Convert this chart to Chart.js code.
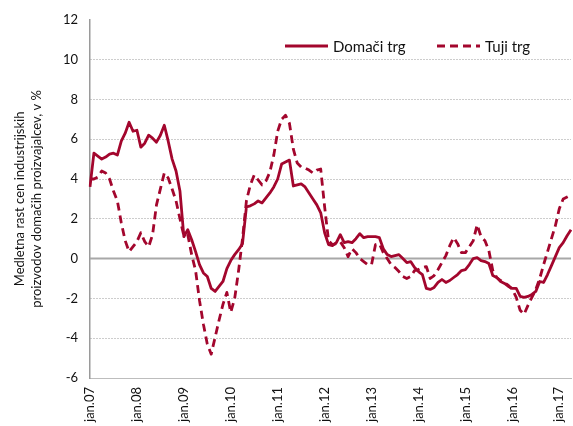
<!DOCTYPE html>
<html>
<head>
<meta charset="utf-8">
<script src="https://cdn.jsdelivr.net/npm/chart.js@4.4.1/dist/chart.umd.min.js"></script>
<style>
html,body{margin:0;padding:0;background:#fff;}
#wrap{width:573px;height:426px;}
</style>
</head>
<body>
<div id="wrap"><canvas id="c" width="573" height="426"></canvas></div>
<script>
// ---- data ----
const monthNames = ['jan','feb','mar','apr','maj','jun','jul','avg','sep','okt','nov','dec'];
const yearSuffixes = ['07','08','09','10','11','12','13','14','15','16','17'];
const lastYearMonths = 4; // jan..apr 2017

const seriesNames = ['Domači trg', 'Tuji trg'];

const domaci = [
  3.6, 5.3, 5.15, 5.0, 5.1, 5.25, 5.3, 5.2, 5.9, 6.3, 6.85, 6.4,
  6.45, 5.6, 5.8, 6.2, 6.05, 5.85, 6.2, 6.7, 5.9, 5.0, 4.4, 3.4,
  1.1, 1.45, 0.95, 0.35, -0.3, -0.72, -0.9, -1.5, -1.65, -1.4, -1.15, -0.5,
  -0.1, 0.2, 0.45, 0.75, 2.6, 2.65, 2.75, 2.9, 2.8, 3.05, 3.3, 3.6,
  4.0, 4.75, 4.85, 4.95, 3.65, 3.7, 3.75, 3.6, 3.3, 3.0, 2.7, 2.3,
  1.3, 0.7, 0.65, 0.8, 1.2, 0.8, 0.85, 0.8, 1.0, 1.25, 1.05, 1.1,
  1.1, 1.1, 1.05, 0.5, 0.2, 0.1, 0.15, 0.2, 0.0, -0.2, -0.15, -0.45,
  -0.65, -0.8, -1.5, -1.55, -1.45, -1.2, -1.05, -1.2, -1.1, -0.95, -0.8, -0.6,
  -0.55, -0.3, 0.0, 0.05, -0.1, -0.15, -0.25, -0.85, -0.95, -1.15, -1.25, -1.4,
  -1.5, -1.5, -1.9, -1.95, -1.9, -1.8, -1.65, -1.15, -1.2, -0.8, -0.35, 0.1,
  0.55, 0.8, 1.15, 1.45
];

const tuji = [
  4.0, 4.0, 4.1, 4.4, 4.3, 4.0, 3.4, 2.9, 1.8, 0.9, 0.35, 0.6,
  0.85, 1.3, 0.85, 0.6, 1.2, 2.7, 3.5, 4.3, 4.05, 3.5, 2.9, 2.0,
  1.15, 1.2, 0.2, -0.6, -2.1, -3.3, -4.3, -4.8, -3.95, -3.1, -2.3, -1.7,
  -2.7, -2.0, -0.6, 1.0, 2.9, 3.7, 4.2, 3.95, 3.7, 3.9, 4.35, 5.2,
  6.4, 7.0, 7.2, 6.8, 5.5, 4.8, 4.6, 4.55, 4.45, 4.3, 4.45, 4.5,
  2.6, 0.9, 0.7, 0.75, 0.85, 0.55, 0.1, 0.5, 0.3, 0.0, -0.15, -0.3,
  -0.3, 0.7, 0.75, 0.3, 0.0, -0.3, -0.45, -0.65, -0.9, -1.0, -0.9, -0.6,
  -0.55, -0.45, -0.4, -1.0, -0.85, -0.55, -0.2, 0.15, 0.65, 1.05, 0.75, 0.3,
  0.3, 0.6, 0.9, 1.7, 1.1, 0.9, 0.4, -0.6, -0.95, -1.1, -1.2, -1.35,
  -1.55, -1.95, -2.6, -2.8, -2.35, -1.95, -1.55, -1.0, -0.3, 0.35, 1.0, 1.65,
  2.5, 3.0, 3.1, 3.2
];

const yMin = -6, yMax = 12, yStep = 2;
const yTitle = ['Medletna rast cen industrijskih', 'proizvodov domačih proizvajalcev, v %'];

// category labels: one per month
const labels = [];
yearSuffixes.forEach((yy, i) => {
  const n = (i === yearSuffixes.length - 1) ? lastYearMonths : 12;
  for (let m = 0; m < n; m++) labels.push(monthNames[m] + '.' + yy);
});

// ---- styling ----
const lineColor = '#a3062d';
const FONT = 'Lato';

const zeroLine = {
  id: 'zeroLine',
  beforeDatasetsDraw(chart) {
    const {ctx, chartArea, scales} = chart;
    const py = scales.y.getPixelForValue(0);
    ctx.save();
    ctx.strokeStyle = '#a8a8a8';
    ctx.lineWidth = 2;
    ctx.beginPath();
    ctx.moveTo(chartArea.left, py);
    ctx.lineTo(chartArea.right, py);
    ctx.stroke();
    ctx.restore();
  }
};

const innerLegend = {
  id: 'innerLegend',
  afterDatasetsDraw(chart, args, opts) {
    const ctx = chart.ctx;
    ctx.save();
    ctx.font = opts.fontSize + 'px ' + FONT;
    ctx.textBaseline = 'middle';
    ctx.textAlign = 'left';
    chart.data.datasets.forEach((ds, i) => {
      const x = opts.xs[i], y = opts.y;
      ctx.strokeStyle = ds.borderColor;
      ctx.lineWidth = ds.borderWidth;
      ctx.setLineDash(ds.borderDash || []);
      ctx.beginPath();
      ctx.moveTo(x, y);
      ctx.lineTo(x + opts.lineLen, y);
      ctx.stroke();
      ctx.setLineDash([]);
      ctx.fillStyle = '#111';
      ctx.fillText(ds.label, x + opts.lineLen + opts.gap, y + 1);
    });
    ctx.restore();
  }
};

new Chart(document.getElementById('c'), {
  type: 'line',
  data: {
    labels: labels,
    datasets: [
      {
        label: seriesNames[0],
        data: domaci,
        borderColor: lineColor,
        backgroundColor: lineColor,
        borderWidth: 2.8,
        pointRadius: 0,
        tension: 0,
        borderJoinStyle: 'round',
        fill: false
      },
      {
        label: seriesNames[1],
        data: tuji,
        borderColor: lineColor,
        backgroundColor: lineColor,
        borderWidth: 2.8,
        borderDash: [8, 5],
        pointRadius: 0,
        tension: 0,
        borderJoinStyle: 'round',
        fill: false
      }
    ]
  },
  options: {
    responsive: false,
    animation: false,
    devicePixelRatio: 1,
    layout: { padding: { top: 12, right: 2, left: 0, bottom: 0 } },
    plugins: {
      legend: { display: false },
      tooltip: { enabled: false },
      innerLegend: { xs: [285, 437], y: 46, lineLen: 43, gap: 5, fontSize: 15 }
    },
    scales: {
      x: {
        type: 'category',
        offset: false,
        grid: { display: false, drawTicks: false },
        border: { display: true, color: '#bdbdbd', width: 1 },
        ticks: {
          autoSkip: false,
          maxRotation: 90,
          minRotation: 90,
          padding: 9,
          color: '#111',
          font: { family: FONT, size: 13 },
          callback: function (val, idx) {
            const l = this.getLabelForValue(val);
            return l.startsWith('jan') ? l : '';
          }
        },
        afterFit: s => { s.height = 48; s.paddingRight = 0; s.paddingLeft = 0; }
      },
      y: {
        min: yMin,
        max: yMax,
        ticks: {
          stepSize: yStep,
          padding: 12,
          color: '#111',
          font: { family: FONT, size: 13 }
        },
        grid: {
          drawTicks: false,
          lineWidth: 1,
          color: ctx => (ctx.tick && (ctx.tick.value === 0 || ctx.tick.value === yMin || ctx.tick.value === yMax)) ? 'rgba(0,0,0,0)' : '#9a9a9a'
        },
        border: { display: true, color: '#9a9a9a', width: 1.5, dash: [1, 2] },
        title: {
          display: true,
          text: yTitle,
          color: '#111',
          font: { family: FONT, size: 13, lineHeight: 1.25 },
          padding: { top: 12, bottom: 4 }
        },
        afterFit: s => { s.width = 90; }
      }
    }
  },
  plugins: [zeroLine, innerLegend]
});
</script>
</body>
</html>
